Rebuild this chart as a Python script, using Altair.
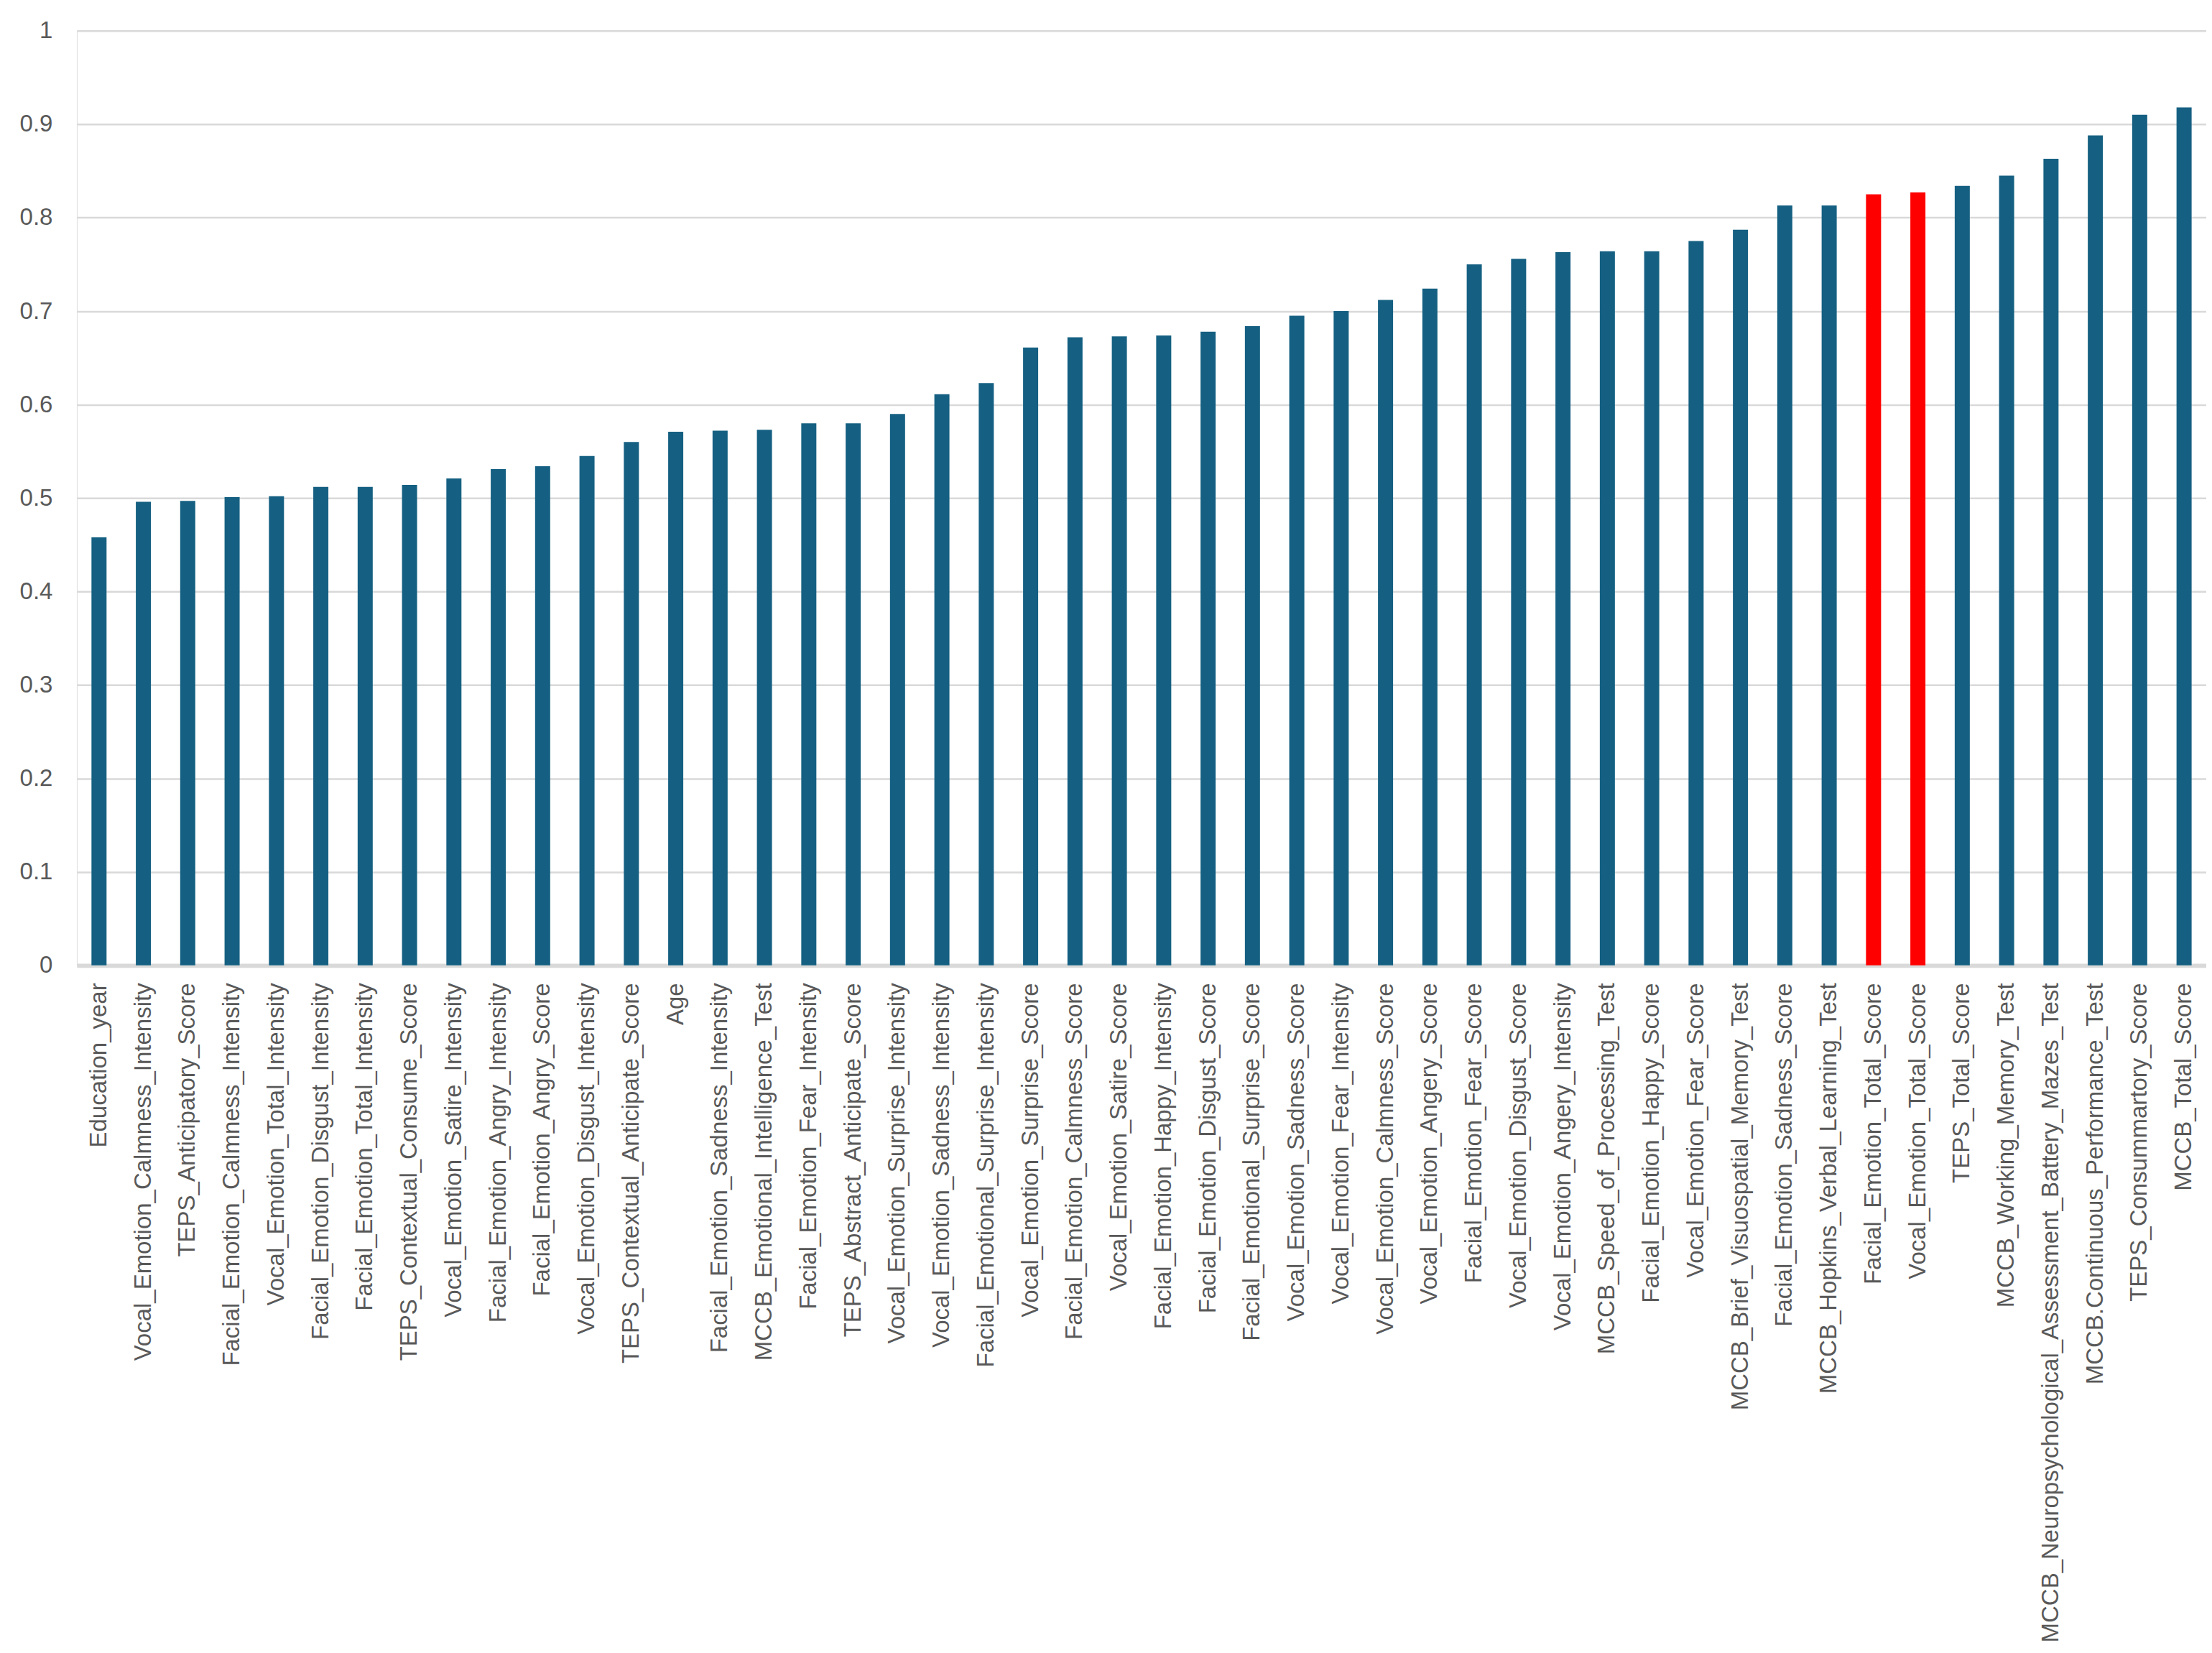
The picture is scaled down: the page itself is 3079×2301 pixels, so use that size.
import altair as alt
import pandas as pd

categories = [
    "Education_year", "Vocal_Emotion_Calmness_Intensity", "TEPS_Anticipatory_Score",
    "Facial_Emotion_Calmness_Intensity", "Vocal_Emotion_Total_Intensity",
    "Facial_Emotion_Disgust_Intensity", "Facial_Emotion_Total_Intensity",
    "TEPS_Contextual_Consume_Score", "Vocal_Emotion_Satire_Intensity",
    "Facial_Emotion_Angry_Intensity", "Facial_Emotion_Angry_Score",
    "Vocal_Emotion_Disgust_Intensity", "TEPS_Contextual_Anticipate_Score", "Age",
    "Facial_Emotion_Sadness_Intensity", "MCCB_Emotional_Intelligence_Test",
    "Facial_Emotion_Fear_Intensity", "TEPS_Abstract_Anticipate_Score",
    "Vocal_Emotion_Surprise_Intensity", "Vocal_Emotion_Sadness_Intensity",
    "Facial_Emotional_Surprise_Intensity", "Vocal_Emotion_Surprise_Score",
    "Facial_Emotion_Calmness_Score", "Vocal_Emotion_Satire_Score",
    "Facial_Emotion_Happy_Intensity", "Facial_Emotion_Disgust_Score",
    "Facial_Emotional_Surprise_Score", "Vocal_Emotion_Sadness_Score",
    "Vocal_Emotion_Fear_Intensity", "Vocal_Emotion_Calmness_Score",
    "Vocal_Emotion_Angery_Score", "Facial_Emotion_Fear_Score",
    "Vocal_Emotion_Disgust_Score", "Vocal_Emotion_Angery_Intensity",
    "MCCB_Speed_of_Processing_Test", "Facial_Emotion_Happy_Score",
    "Vocal_Emotion_Fear_Score", "MCCB_Brief_Visuospatial_Memory_Test",
    "Facial_Emotion_Sadness_Score", "MCCB_Hopkins_Verbal_Learning_Test",
    "Facial_Emotion_Total_Score", "Vocal_Emotion_Total_Score", "TEPS_Total_Score",
    "MCCB_Working_Memory_Test", "MCCB_Neuropsychological_Assessment_Battery_Mazes_Test",
    "MCCB.Continuous_Performance_Test", "TEPS_Consummartory_Score", "MCCB_Total_Score",
]

values = [
    0.458, 0.496, 0.497, 0.501, 0.502, 0.512, 0.512, 0.514, 0.521, 0.531, 0.534,
    0.545, 0.560, 0.571, 0.572, 0.573, 0.580, 0.580, 0.590, 0.611, 0.623, 0.661,
    0.672, 0.673, 0.674, 0.678, 0.684, 0.695, 0.700, 0.712, 0.724, 0.750, 0.756,
    0.763, 0.764, 0.764, 0.775, 0.787, 0.813, 0.813, 0.825, 0.827, 0.834, 0.845,
    0.863, 0.888, 0.910, 0.918,
]

highlighted = ["Facial_Emotion_Total_Score", "Vocal_Emotion_Total_Score"]

y_ticks = [0, 0.1, 0.2, 0.3, 0.4, 0.5, 0.6, 0.7, 0.8, 0.9, 1]

df = pd.DataFrame({
    "feature": categories,
    "value": values,
    "group": ["highlight" if c in highlighted else "base" for c in categories],
})

FONT = "Liberation Sans"
TEXT = "#595959"

chart = (
    alt.Chart(df)
    .mark_bar()
    .encode(
        x=alt.X(
            "feature:N",
            sort=None,
            title=None,
            scale=alt.Scale(paddingInner=0.66, paddingOuter=0.33),
            axis=alt.Axis(
                labelAngle=-90,
                labelFontSize=33,
                labelFont=FONT,
                labelColor=TEXT,
                labelPadding=24,
                ticks=False,
                domain=True,
                domainColor="#d9d9d9",
                domainWidth=6,
                grid=False,
                labelLimit=0,
                labelOverlap=False,
            ),
        ),
        y=alt.Y(
            "value:Q",
            title=None,
            scale=alt.Scale(domain=[0, 1], nice=False),
            axis=alt.Axis(
                values=y_ticks,
                format=".1~f",
                labelFontSize=33,
                labelFont=FONT,
                labelColor=TEXT,
                labelPadding=34,
                ticks=False,
                domain=False,
                grid=True,
                gridColor="#d9d9d9",
                gridWidth=2.5,
            ),
        ),
        color=alt.Color(
            "group:N",
            scale=alt.Scale(domain=["base", "highlight"], range=["#156082", "#FF0000"]),
            legend=None,
        ),
    )
    .properties(
        width=2966,
        height=1302,
        padding={"left": 19, "top": 18, "right": 0, "bottom": 5},
    )
    .configure_view(stroke=None)
    .configure(background="white")
)

chart.save("out.html", embed_options={"renderer": "svg", "actions": False})
